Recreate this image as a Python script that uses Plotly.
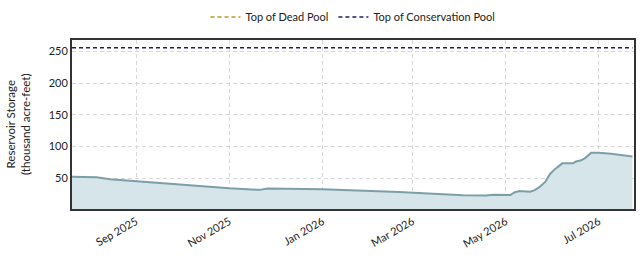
import plotly.graph_objects as go

dates = ["2025-07-21", "2025-08-02", "2025-08-06", "2025-08-15", "2025-09-01", "2025-09-17",
         "2025-09-27", "2025-10-20", "2025-11-01", "2025-11-19", "2025-11-21", "2025-11-26",
         "2025-12-17", "2026-01-01", "2026-02-20", "2026-03-05", "2026-04-03", "2026-04-18",
         "2026-04-23", "2026-05-04", "2026-05-07", "2026-05-10", "2026-05-17", "2026-05-20",
         "2026-05-23", "2026-05-27", "2026-05-30", "2026-06-02", "2026-06-05", "2026-06-07",
         "2026-06-14", "2026-06-16", "2026-06-19", "2026-06-22", "2026-06-26", "2026-07-01",
         "2026-07-09", "2026-07-23"]
storage = [52.5, 51.0, 51.5, 48.6, 45.3, 41.8,
           40.4, 36.0, 34.2, 31.9, 31.7, 34.0,
           33.2, 32.5, 28.4, 26.5, 23.1, 22.6,
           23.8, 23.6, 28.0, 29.8, 28.9, 31.3,
           36.0, 44.7, 56.8, 64.0, 70.2, 73.5,
           73.5, 76.4, 77.9, 81.8, 90.4, 90.4,
           88.5, 84.2]

dead_pool = 0
conservation_pool = 256

tick_dates = ["2025-09-01", "2025-11-01", "2026-01-01", "2026-03-01", "2026-05-01", "2026-07-01"]
tick_labels = ["Sep 2025", "Nov 2025", "Jan 2026", "Mar 2026", "May 2026", "Jul 2026"]
y_ticks = [50, 100, 150, 200, 250]

font_family = "Lato, 'Noto Sans', sans-serif"

fig = go.Figure()
fig.add_trace(go.Scatter(
    x=dates, y=storage, mode="lines", fill="tozeroy",
    line=dict(color="#7c9fa7", width=2), fillcolor="#d5e5e9",
    showlegend=False, hoverinfo="x+y"))
fig.add_trace(go.Scatter(
    x=[dates[0], dates[-1]], y=[dead_pool, dead_pool], mode="lines",
    line=dict(color="#b3a02c", width=1.5, dash="4px,3px"), name="Top of Dead Pool"))
fig.add_trace(go.Scatter(
    x=[dates[0], dates[-1]], y=[conservation_pool, conservation_pool], mode="lines",
    line=dict(color="#1c1c6e", width=1.5, dash="4px,3px"), name="Top of Conservation Pool"))

fig.update_layout(
    width=642, height=256,
    margin=dict(l=72, r=6, t=31, b=39),
    paper_bgcolor="white", plot_bgcolor="white",
    font=dict(family=font_family, size=11, color="#222"),
    legend=dict(orientation="h", x=0.5, xanchor="center", y=0.99, yanchor="top",
                yref="container", font=dict(size=11), bgcolor="rgba(0,0,0,0)"),
    xaxis=dict(
        range=["2025-07-21", "2026-07-24"],
        tickvals=tick_dates, ticktext=tick_labels, tickangle=-30,
        showgrid=True, gridcolor="#d8d8d8", griddash="4px,3px", gridwidth=1,
        showline=True, linecolor="#333", linewidth=2, mirror=True,
        ticks="", zeroline=False, tickfont=dict(size=11)),
    yaxis=dict(
        range=[1.5, 268.8], tickvals=y_ticks,
        showgrid=True, gridcolor="#d8d8d8", griddash="4px,3px", gridwidth=1,
        showline=True, linecolor="#333", linewidth=2, mirror=True,
        ticks="", zeroline=False, tickfont=dict(size=11),
        title=dict(text="Reservoir Storage<br>(thousand acre-feet)", font=dict(size=11.5), standoff=16)),
)

fig.write_html("out.html")
